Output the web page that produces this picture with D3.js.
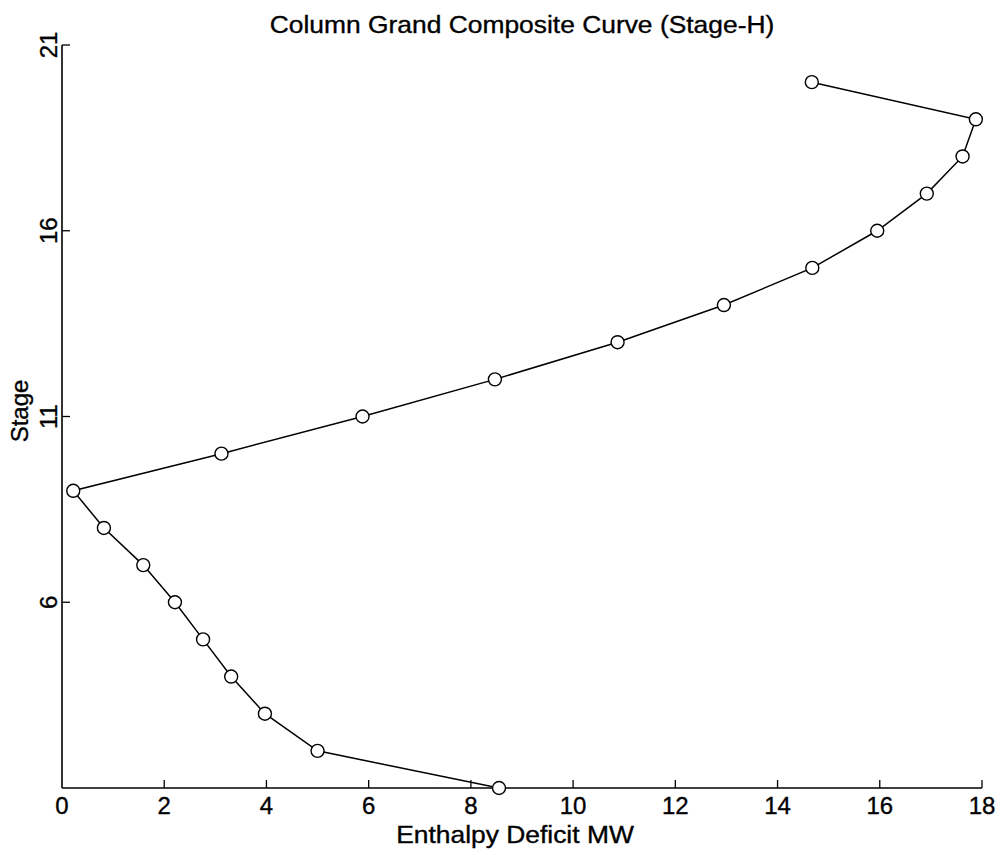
<!DOCTYPE html>
<html><head><meta charset="utf-8">
<script src="https://cdn.jsdelivr.net/npm/d3@7"></script>
<style>body{margin:0;background:#fff}svg{display:block}text{font-family:"Liberation Sans",Arial,sans-serif;fill:#000;stroke:#000;stroke-width:0.35px}</style>
</head><body><svg id="c" width="1000" height="855"></svg>
<script>
const stages = [1,2,3,4,5,6,7,8,9,10,11,12,13,14,15,16,17,18,19,20];
const deficit = [8.55,5.0,3.97,3.31,2.76,2.21,1.59,0.82,0.22,3.12,5.88,8.47,10.87,12.95,14.68,15.95,16.92,17.62,17.88,14.67];
const xTicks = [0,2,4,6,8,10,12,14,16,18];
const yTicks = [6,11,16,21];
const title = "Column Grand Composite Curve (Stage-H)";
const xLabel = "Enthalpy Deficit MW";
const yLabel = "Stage";

const svg = d3.select("#c");
const L=62, R=982, T=45, B=788;
const x = d3.scaleLinear().domain([0,18]).range([L,R]);
const y = d3.scaleLinear().domain([1,21]).range([B,T]);

svg.append("line").attr("x1",L).attr("x2",L).attr("y1",B).attr("y2",T).attr("stroke","#000").attr("stroke-width",1.6);
svg.append("line").attr("x1",L).attr("x2",R).attr("y1",B).attr("y2",B).attr("stroke","#000").attr("stroke-width",1.6);

const gx = svg.append("g");
gx.selectAll("line").data(xTicks.slice(1)).join("line")
  .attr("x1",d=>x(d)).attr("x2",d=>x(d)).attr("y1",B).attr("y2",B-8).attr("stroke","#000").attr("stroke-width",1.3);
gx.selectAll("text").data(xTicks).join("text")
  .attr("x",d=>x(d)).attr("y",B+26).attr("text-anchor","middle").attr("font-size",24).text(d=>d);

const gy = svg.append("g");
gy.selectAll("line").data(yTicks).join("line")
  .attr("x1",L).attr("x2",L+8).attr("y1",d=>y(d)).attr("y2",d=>y(d)).attr("stroke","#000").attr("stroke-width",1.3);
gy.selectAll("text").data(yTicks).join("text")
  .attr("transform",d=>`translate(${L-5},${y(d)}) rotate(-90)`)
  .attr("text-anchor","middle").attr("font-size",24).text(d=>d);

svg.append("text").attr("transform","translate(522,33) scale(1.1,1)").attr("text-anchor","middle").attr("font-size",24).text(title);
svg.append("text").attr("transform","translate(515,843) scale(1.1,1)").attr("text-anchor","middle").attr("font-size",24).text(xLabel);
svg.append("text").attr("transform",`translate(28,411) rotate(-90)`).attr("text-anchor","middle").attr("font-size",24).text(yLabel);

const pts = stages.map((s,i)=>({s, v:deficit[i]}));
svg.append("path").datum(pts)
  .attr("d", d3.line().x(d=>x(d.v)).y(d=>y(d.s)))
  .attr("fill","none").attr("stroke","#000").attr("stroke-width",1.5);
svg.selectAll("circle.m").data(pts).join("circle").attr("class","m")
  .attr("cx",d=>x(d.v)).attr("cy",d=>y(d.s)).attr("r",6.5)
  .attr("fill","#fff").attr("stroke","#000").attr("stroke-width",1.4);
</script></body></html>
